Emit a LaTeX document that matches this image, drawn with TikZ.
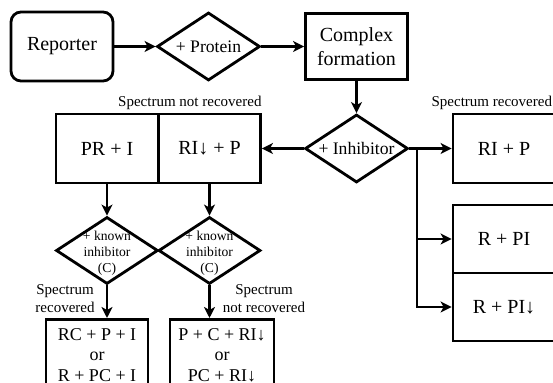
\documentclass[tikz,border=0pt]{standalone}
\usepackage{fontspec}
\setmainfont{Liberation Serif}
\usetikzlibrary{arrows.meta,shapes.geometric,positioning}
\tikzset{
  box/.style={draw,line width=1.4pt,minimum width=51pt,minimum height=34.5pt,inner sep=1pt,align=center,font=\fontsize{10}{12}\selectfont},
  startbox/.style={box,rounded corners=5pt},
  dec/.style={draw,diamond,line width=1.4pt,minimum width=51.5pt,minimum height=34pt,inner sep=0pt},
  dtxt/.style={inner sep=0pt,align=center,font=\fontsize{8.8}{10}\selectfont},
  dsmall/.style={inner sep=0pt,align=center,yshift=-1.5pt,font=\fontsize{6.8}{8}\selectfont},
  res/.style={box,anchor=north,inner xsep=1pt,inner ysep=4.5pt,font=\fontsize{9}{10.25}\selectfont},
  arr/.style={line width=1.4pt,-{Stealth[length=5.5pt,width=5.5pt,inset=1.5pt]}},
  lbl/.style={inner sep=1.2pt,align=center,font=\fontsize{7.5}{9}\selectfont}
}

\begin{document}
\begin{tikzpicture}[x=0.5pt,y=-0.5pt]
\useasboundingbox (0,0) rectangle (553,383);
\clip (0,0) rectangle (553,383);
% top row
\node[startbox] (rep) at (62,46.5) {Reporter};
\node[dec,label={[dtxt]center:+ Protein}] (prot) at (208.5,46.5) {};
\node[box,minimum height=33pt] (cplx) at (356.5,46.5) {Complex\\formation};
\draw[arr] (rep) -- (prot);
\draw[arr] (prot) -- (cplx);
% inhibitor step
\node[dec,label={[dtxt]center:+ Inhibitor}] (inh) at (356.5,148.5) {};
\draw[arr] (cplx) -- (inh);
\node[box] (pr) at (107,148.5) {PR + I};
\node[box] (rip) at (209.5,148.5) {RI↓ + P};
\node[box] (rec) at (504,148.5) {RI + P};
\node[lbl,anchor=south east,inner xsep=0pt] (lnrec) at (rip.north east) {Spectrum not recovered};
\node[lbl,anchor=south east,inner xsep=0pt] (lrec) at ([xshift=-2pt]rec.north east) {Spectrum recovered};
\draw[arr] (inh) -- (rip);
\draw[arr] (inh) -- (rec);
% right branch
\coordinate (br) at (417,148.5);
\node[box,minimum height=34pt] (rpi) at (504,239) {R + PI};
\node[box,minimum height=34pt] (rpid) at (504,307) {R + PI↓};
\draw[arr] (br) |- (rpi);
\draw[arr] (br) |- (rpid);
% known inhibitor tests
\node[dec,minimum width=51pt,minimum height=33.5pt,label={[dsmall]center:{+ known\\inhibitor\\(C)}}] (kn1) at (107,250.5) {};
\node[dec,minimum width=51pt,minimum height=33.5pt,label={[dsmall]center:{+ known\\inhibitor\\(C)}}] (kn2) at (209.5,250.5) {};
\draw[arr] (pr) -- (kn1);
\draw[arr] (rip) -- (kn2);
\node[res] (res1) at (97,318) {RC + P + I\\or\\R + PC + I};
\node[res,minimum width=52pt] (res2) at (222,318) {P + C + RI↓\\or\\PC + RI↓};
\draw[arr] (kn1.south) -- (kn1.south |- res1.north);
\draw[arr] (kn2.south) -- (kn2.south |- res2.north);
\node[lbl] (lsrec) at (65,299) {Spectrum\\recovered};
\node[lbl] (lsnrec) at (264,299) {Spectrum\\not recovered};
\end{tikzpicture}
\end{document}
